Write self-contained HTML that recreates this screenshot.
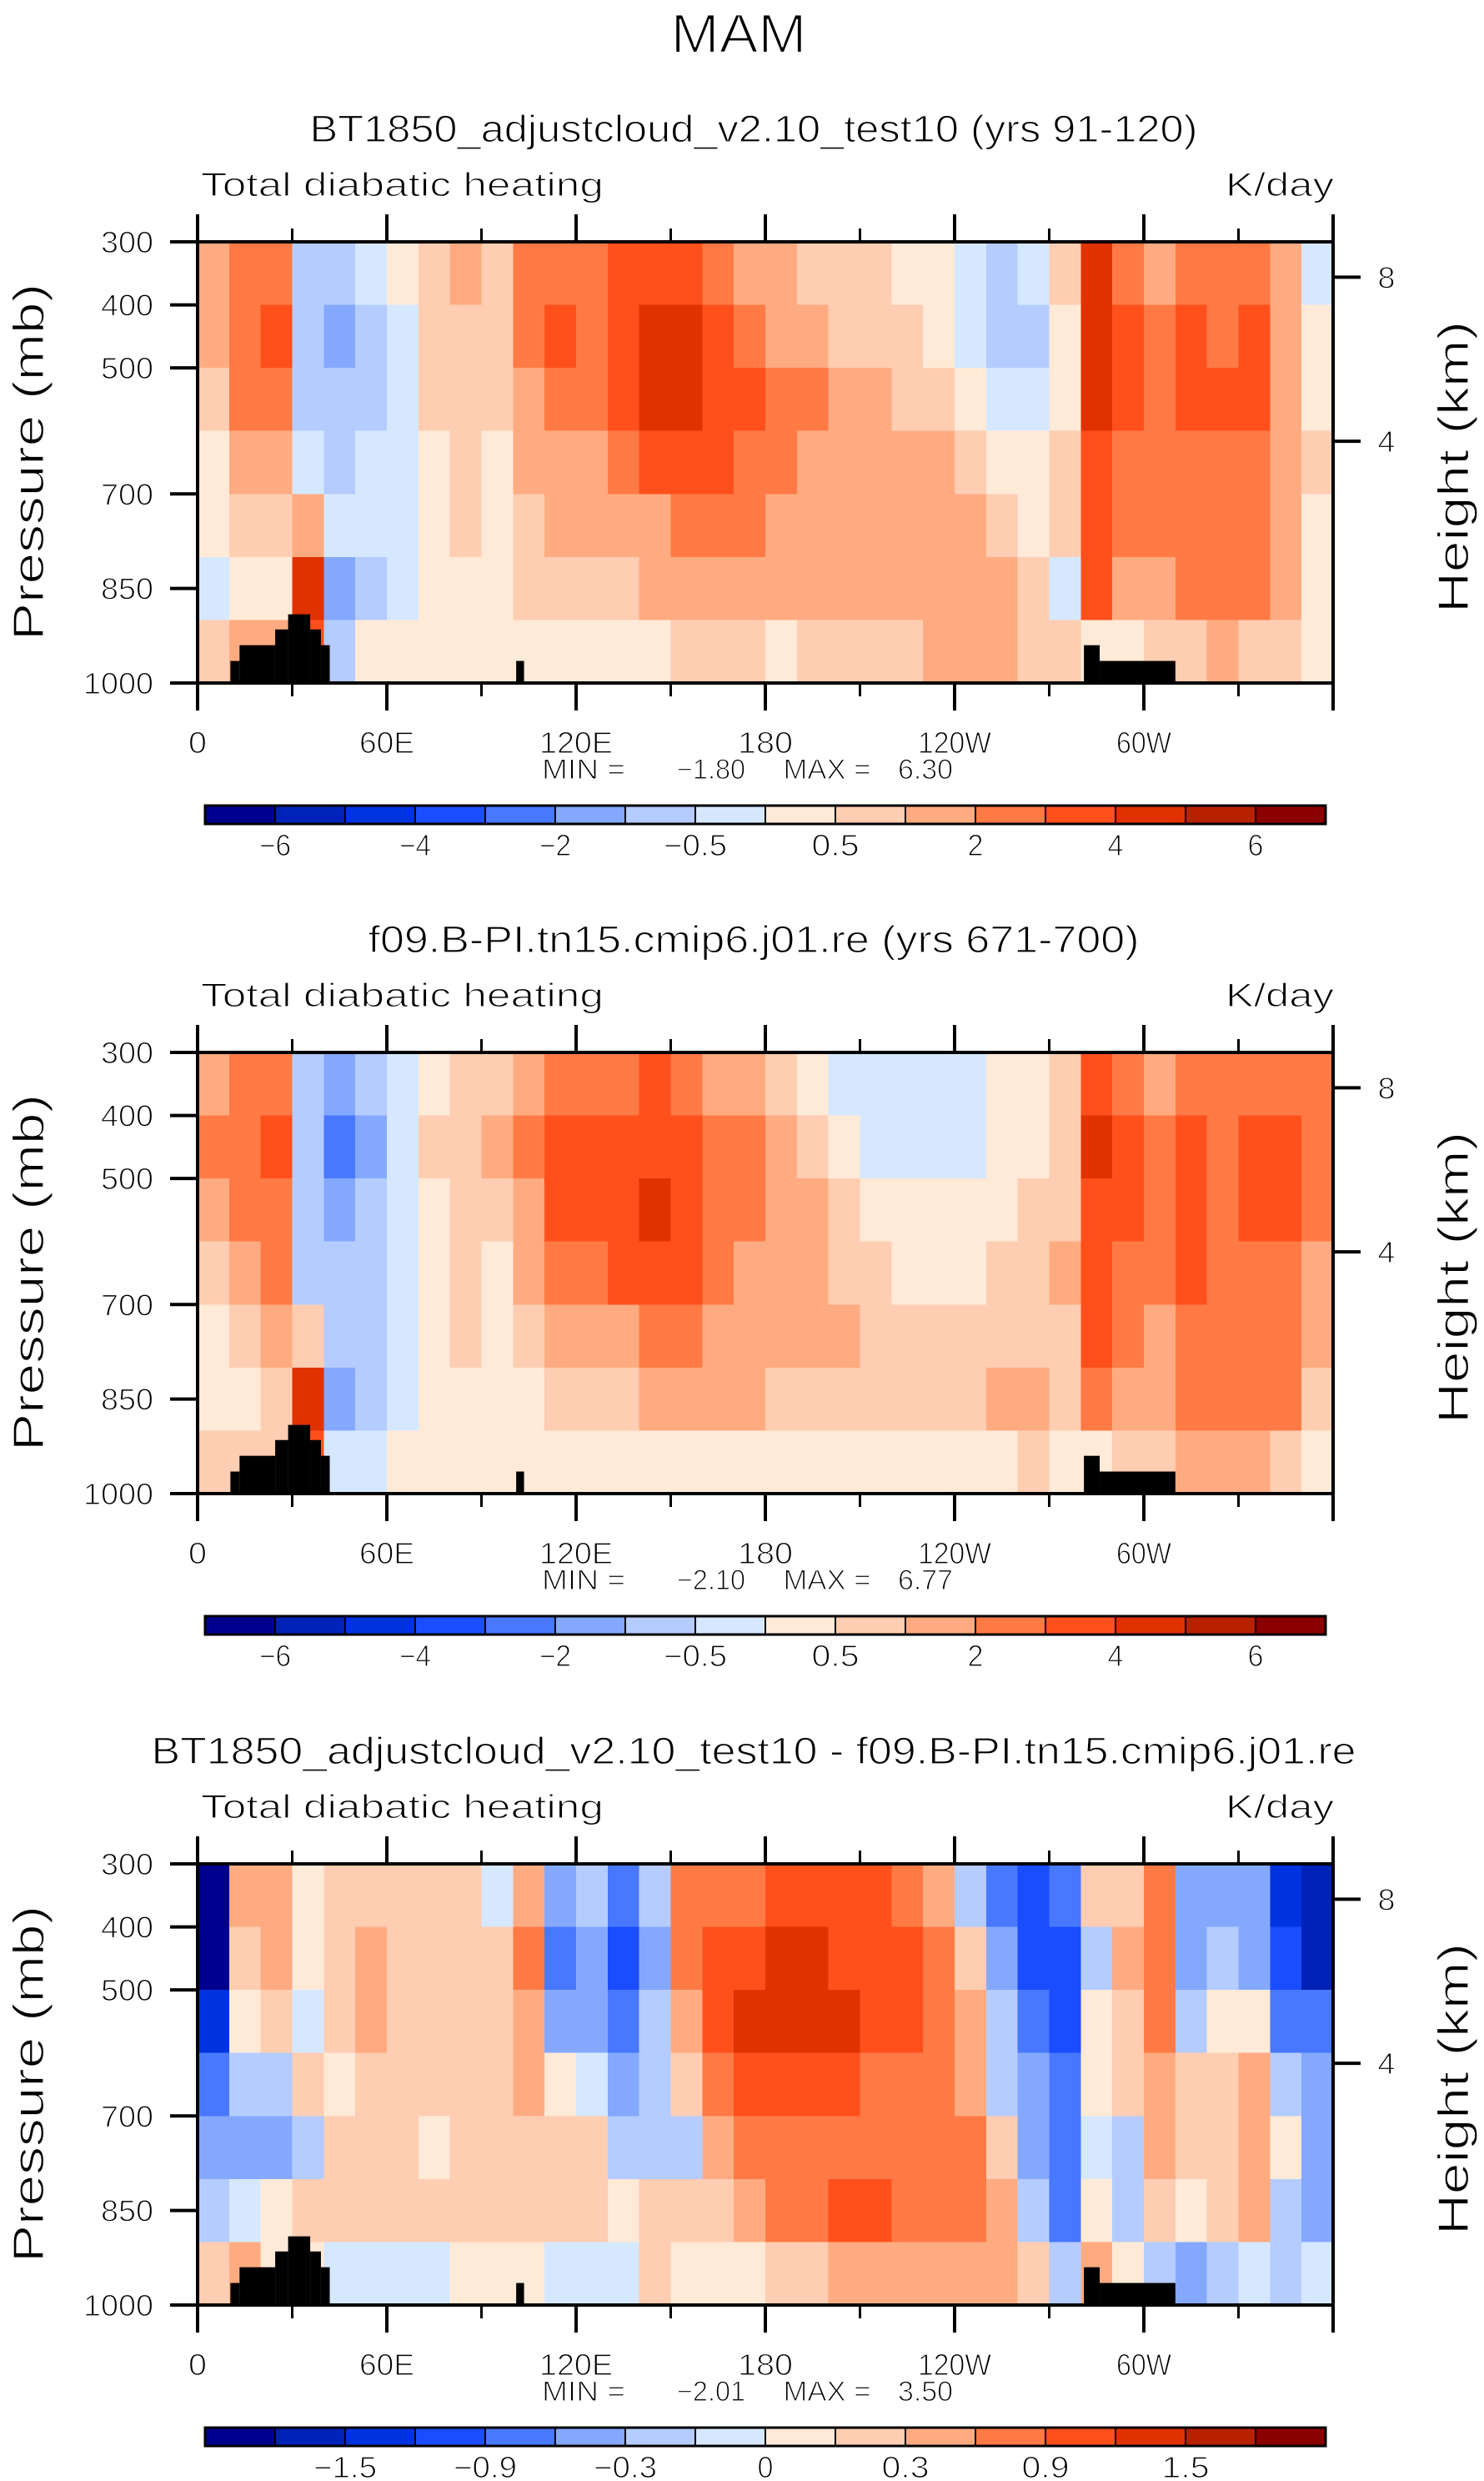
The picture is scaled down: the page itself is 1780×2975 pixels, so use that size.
<!DOCTYPE html>
<html><head><meta charset="utf-8"><style>
html,body{margin:0;padding:0;background:#fff;}
svg{display:block;}
text{font-family:"Liberation Sans",sans-serif;fill:#000;stroke:#fff;stroke-width:1.2px;}
</style></head><body>
<svg id="fig" width="1780" height="2975" viewBox="0 0 1780 2975" xmlns="http://www.w3.org/2000/svg">
<rect x="0" y="0" width="1780" height="2975" fill="#fff"/>
<text x="886" y="63" font-size="66" text-anchor="middle" textLength="163" lengthAdjust="spacingAndGlyphs" style="stroke-width:2px">MAM</text>
</svg>
<script>
// ---- data ----
const lonCenters = [5,15,25,35,45,55,65,75,85,95,105,115,125,135,145,155,165,175,185,195,205,215,225,235,245,255,265,275,285,295,305,315,325,335,345,355];
const pressureEdges = [300,400,500,600,700,800,900,1000];
const lonTicks = [0,60,120,180,240,300];
const lonTickLabels = ["0","60E","120E","180","120W","60W"];
const presTicks = [300,400,500,700,850,1000];
const heightTicksKm = [8,4];
// each column: values from top (300-400 mb) to bottom (900-1000 mb)
const heat1 = [
[1.5,1.5,0.7,0.3,0.3,-0.3,0.7],[2.5,2.5,2.5,1.5,0.7,0.3,1.5],[2.5,3.5,2.5,1.5,0.7,0.3,1.5],
[-0.7,-0.7,-0.7,-0.3,1.5,4.5,3.5],[-0.7,-1.5,-0.7,-0.7,-0.3,-1.5,-0.7],[-0.3,-0.7,-0.7,-0.3,-0.3,-0.7,0.3],
[0.3,-0.3,-0.3,-0.3,-0.3,-0.3,0.3],[0.7,0.7,0.7,0.3,0.3,0.3,0.3],[1.5,0.7,0.7,0.7,0.7,0.3,0.3],
[0.7,0.7,0.7,0.3,0.3,0.3,0.3],[2.5,2.5,1.5,1.5,0.7,0.7,0.3],[2.5,3.5,2.5,1.5,1.5,0.7,0.3],
[2.5,2.5,2.5,1.5,1.5,0.7,0.3],[3.5,3.5,3.5,2.5,1.5,0.7,0.3],[3.5,4.5,4.5,3.5,1.5,1.5,0.3],
[3.5,4.5,4.5,3.5,2.5,1.5,0.7],[2.5,3.5,3.5,3.5,2.5,1.5,0.7],[1.5,2.5,3.5,2.5,2.5,1.5,0.7],
[1.5,1.5,2.5,2.5,1.5,1.5,0.3],[0.7,1.5,2.5,1.5,1.5,1.5,0.7],[0.7,0.7,1.5,1.5,1.5,1.5,0.7],
[0.7,0.7,1.5,1.5,1.5,1.5,0.7],[0.3,0.7,0.7,1.5,1.5,1.5,0.7],[0.3,0.3,0.7,1.5,1.5,1.5,1.5],
[-0.3,-0.3,0.3,0.7,1.5,1.5,1.5],[-0.7,-0.7,-0.3,0.3,0.7,1.5,1.5],[-0.3,-0.7,-0.3,0.3,0.3,0.7,0.7],
[0.7,0.3,0.3,0.7,0.7,-0.3,0.7],[4.5,4.5,4.5,3.5,3.5,3.5,0.3],[2.5,3.5,3.5,2.5,2.5,1.5,0.3],
[1.5,2.5,2.5,2.5,2.5,1.5,0.7],[2.5,3.5,3.5,2.5,2.5,2.5,0.7],[2.5,2.5,3.5,2.5,2.5,2.5,1.5],
[2.5,3.5,3.5,2.5,2.5,2.5,0.7],[1.5,1.5,1.5,1.5,1.5,1.5,0.7],[-0.3,0.3,0.3,0.7,0.3,0.3,0.3]
];
const heat2 = [
[1.5,2.5,1.5,0.7,0.3,0.3,0.7],[2.5,2.5,2.5,1.5,0.7,0.3,0.7],[2.5,3.5,2.5,2.5,1.5,0.7,0.7],
[-0.7,-0.7,-0.7,-0.7,0.7,4.5,3.5],[-1.5,-2.5,-1.5,-0.7,-0.7,-1.5,-0.3],[-0.7,-1.5,-0.7,-0.7,-0.7,-0.7,-0.3],
[-0.3,-0.3,-0.3,-0.3,-0.3,-0.3,0.3],[0.3,0.7,0.3,0.3,0.3,0.3,0.3],[0.7,0.7,0.7,0.7,0.7,0.3,0.3],
[0.7,1.5,0.7,0.3,0.3,0.3,0.3],[1.5,2.5,1.5,1.5,0.7,0.3,0.3],[2.5,3.5,3.5,2.5,1.5,0.7,0.3],
[2.5,3.5,3.5,2.5,1.5,0.7,0.3],[2.5,3.5,3.5,3.5,1.5,0.7,0.3],[3.5,3.5,4.5,3.5,2.5,1.5,0.3],
[2.5,3.5,3.5,3.5,2.5,1.5,0.3],[1.5,2.5,2.5,2.5,1.5,1.5,0.3],[1.5,2.5,2.5,1.5,1.5,1.5,0.3],
[0.7,1.5,1.5,1.5,1.5,0.7,0.3],[0.3,0.7,1.5,1.5,1.5,0.7,0.3],[-0.3,0.3,0.7,0.7,1.5,0.7,0.3],
[-0.3,-0.3,0.3,0.7,0.7,0.7,0.3],[-0.3,-0.3,0.3,0.3,0.7,0.7,0.3],[-0.3,-0.3,0.3,0.3,0.7,0.7,0.3],
[-0.3,-0.3,0.3,0.3,0.7,0.7,0.3],[0.3,0.3,0.3,0.7,0.7,1.5,0.3],[0.3,0.3,0.7,0.7,0.7,1.5,0.7],
[0.7,0.7,0.7,1.5,0.7,0.7,0.3],[3.5,4.5,3.5,3.5,3.5,2.5,0.3],[2.5,3.5,3.5,2.5,2.5,1.5,0.7],
[1.5,2.5,2.5,2.5,1.5,1.5,0.7],[2.5,3.5,3.5,3.5,2.5,2.5,1.5],[2.5,2.5,2.5,2.5,2.5,2.5,1.5],
[2.5,3.5,3.5,2.5,2.5,2.5,1.5],[2.5,3.5,3.5,2.5,2.5,2.5,0.7],[2.5,2.5,2.5,1.5,1.5,0.7,0.3]
];
const heatDiff = [
[-2,-2,-1.35,-0.75,-0.45,-0.2,0.2],[0.45,0.2,0.07,-0.2,-0.45,-0.07,0.45],[0.45,0.45,0.2,-0.2,-0.45,0.07,0.07],
[0.07,0.07,-0.07,0.2,-0.2,0.2,0.07],[0.2,0.2,0.2,0.07,0.2,0.2,-0.07],[0.2,0.45,0.45,0.2,0.2,0.2,-0.07],
[0.2,0.2,0.2,0.2,0.2,0.2,-0.07],[0.2,0.2,0.2,0.2,0.07,0.2,-0.07],[0.2,0.2,0.2,0.2,0.2,0.2,0.07],
[-0.07,0.2,0.2,0.2,0.2,0.2,0.07],[0.45,0.75,0.45,0.45,0.2,0.2,0.07],[-0.45,-0.75,-0.45,0.07,0.2,0.2,-0.07],
[-0.2,-0.45,-0.45,-0.07,0.2,0.2,-0.07],[-0.75,-1.05,-0.75,-0.45,-0.2,0.07,-0.07],[-0.2,-0.45,-0.2,-0.2,-0.2,0.2,0.2],
[0.75,0.75,0.45,0.2,-0.2,0.2,0.07],[0.75,1.05,1.05,0.75,0.45,0.2,0.07],[0.75,1.05,1.35,1.05,0.75,0.45,0.07],
[1.05,1.35,1.35,1.05,0.75,0.75,0.2],[1.05,1.35,1.35,1.05,0.75,0.75,0.2],[1.05,1.05,1.35,1.05,0.75,1.05,0.45],
[1.05,1.05,1.05,0.75,0.75,1.05,0.45],[0.75,1.05,1.05,0.75,0.75,0.75,0.45],[0.45,0.75,0.75,0.75,0.75,0.75,0.45],
[-0.2,0.2,0.45,0.45,0.75,0.75,0.45],[-0.75,-0.45,-0.2,-0.2,0.2,0.45,0.45],[-1.05,-1.05,-0.75,-0.45,-0.45,-0.2,0.2],
[-0.75,-1.05,-1.05,-0.75,-0.75,-0.75,-0.2],[0.2,-0.2,0.07,0.07,-0.07,0.07,0.45],[0.2,0.45,0.2,0.2,-0.2,-0.2,0.07],
[0.75,0.75,0.75,0.45,0.45,0.2,-0.2],[-0.45,-0.45,-0.2,0.2,0.2,0.07,-0.45],[-0.45,-0.2,0.07,0.2,0.2,0.2,-0.2],
[-0.45,-0.45,0.07,0.45,0.45,0.45,-0.07],[-1.35,-1.05,-0.75,-0.2,0.07,-0.2,-0.2],[-1.65,-1.65,-0.75,-0.45,-0.45,-0.45,-0.07]
];
const levelsAbs = [-6,-5,-4,-3,-2,-1,-0.5,0,0.5,1,2,3,4,5,6];
const levelLabelsAbs = ["−6","","−4","","−2","","−0.5","","0.5","","2","","4","","6"];
const levelsDiff = [-1.8,-1.5,-1.2,-0.9,-0.6,-0.3,-0.15,0,0.15,0.3,0.6,0.9,1.2,1.5,1.8];
const levelLabelsDiff = ["","−1.5","","−0.9","","−0.3","","0","","0.3","","0.9","","1.5",""];
// topography: [lonStart, lonEnd, topPressure]
const topoLonStart = [10.4,13.3,24.6,28.7,35.7,39.1,101,281,286];
const topoLonEnd   = [13.3,24.6,28.7,35.7,39.1,41.9,103.5,286,310];
const topoTopP     = [965,940,915,891,915,940,965,940,965];
const subtitles = ["BT1850_adjustcloud_v2.10_test10 (yrs 91-120)","f09.B-PI.tn15.cmip6.j01.re (yrs 671-700)","BT1850_adjustcloud_v2.10_test10 - f09.B-PI.tn15.cmip6.j01.re"];
const minVals = ["−1.80","−2.10","−2.01"];
const maxVals = ["6.30","6.77","3.50"];
// ---- end data ----

const palette = ["#00008f","#0022b8","#0033e0","#1a4dff","#4878ff","#85a8ff","#b4ccff","#d6e8ff","#ffead8","#ffcdb2","#ffab82","#ff7a45","#ff501c","#e03200","#b82100","#8b0000"];
const NS="http://www.w3.org/2000/svg";
const svg=document.getElementById('fig');
const X0=237, X1=1599;
function xScale(lon){return X0+(lon/360)*(X1-X0);}
function mk(tag,attrs,parent){const e=document.createElementNS(NS,tag);for(const k in attrs)e.setAttribute(k,attrs[k]);(parent||svg).appendChild(e);return e;}
function colorFor(v,levels){let i=0;while(i<levels.length&&v>=levels[i])i++;return palette[i];}
function txt(parent,x,y,s,size,anchor,len){const t=mk('text',{x:x,y:y,'font-size':size,'text-anchor':anchor||'middle'},parent);if(len){t.setAttribute('textLength',len);t.setAttribute('lengthAdjust','spacingAndGlyphs');}t.textContent=s;return t;}

function panel(idx,off,data,levels,labels){
  const Y0=290+off, Y1=819+off;
  const yScale=p=>Y0+(p-300)/700*(Y1-Y0);
  const g=mk('g',{});
  
  
  const st=txt(g,904,170+off,subtitles[idx],45,'middle',idx===2?1445:(idx===0?1065:925));
  
  
  const lt=txt(g,241,235+off,"Total diabatic heating",40,'start',483);
  
  
  const rt=txt(g,1600,235+off,"K/day",40,'end',130);
  
  
  const cg=mk('g',{'shape-rendering':'crispEdges'},g);
  
  
  const dl=lonCenters[1]-lonCenters[0];
  for(let c=0;c<lonCenters.length;c++){
    for(let r=0;r<pressureEdges.length-1;r++){
      const x=xScale(lonCenters[c]-dl/2), w=xScale(lonCenters[c]+dl/2)-x;
      const y=yScale(pressureEdges[r]), h=yScale(pressureEdges[r+1])-y;
      const cell=mk('rect',{x:x,y:y,width:w+0.6,height:h+0.6,fill:colorFor(data[c][r],levels)},cg);
      
      
    }
  }
  for(let i=0;i<topoLonStart.length;i++){
    const x=xScale(topoLonStart[i]), y=yScale(topoTopP[i]);
    const tp=mk('rect',{x:x,y:y,width:xScale(topoLonEnd[i])-x,height:Y1-y,fill:'#000'},g);
    
    
  }
  const fr=mk('rect',{x:X0,y:Y0,width:X1-X0,height:Y1-Y0,fill:'none',stroke:'#000','stroke-width':4},g);
  
  
  for(let lon=0;lon<=360;lon+=30){
    const major=lon%60===0, L=major?33:16, x=xScale(lon);
    mk('line',{x1:x,y1:Y0,x2:x,y2:Y0-L,stroke:'#000','stroke-width':major?4:3},g);
    mk('line',{x1:x,y1:Y1,x2:x,y2:Y1+L,stroke:'#000','stroke-width':major?4:3},g);
  }
  lonTicks.forEach((lon,i)=>{
    const s=lonTickLabels[i];
    const t=txt(g,xScale(lon),903+off,s,36,'middle',s.length*22);
    
    
  });
  presTicks.forEach(p=>{
    const y=yScale(p);
    mk('line',{x1:X0,y1:y,x2:X0-33,y2:y,stroke:'#000','stroke-width':4},g);
    const t=txt(g,184,y+13,String(p),36,'end',String(p).length*21);
    
    
  });
  heightTicksKm.forEach(z=>{
    const p=1013.25*Math.pow(1-2.25577e-5*z*1000,5.25588);
    const y=yScale(p);
    mk('line',{x1:X1,y1:y,x2:X1+33,y2:y,stroke:'#000','stroke-width':4},g);
    const t=txt(g,1663,y+13,String(z),36,'middle',21);
    
    
  });
  const ya=txt(g,0,0,"Pressure (mb)",52,'middle',428);
  ya.setAttribute('transform','translate(52,'+(554+off)+') rotate(-90)');
  
  
  const yb=txt(g,0,0,"Height (km)",52,'middle',350);
  yb.setAttribute('transform','translate(1761,'+(560+off)+') rotate(-90)');
  
  
  const mm=[["MIN =",700,100],[minVals[idx],853,82],["MAX =",992,105],[maxVals[idx],1110,66]];
  mm.forEach(a=>{const t=txt(g,a[1],934+off,a[0],34,'middle',a[2]);
    
    });
  const cbg=mk('g',{},g);
  
  
  const cx0=246,cx1=1590,cy=966+off,ch=22,bw=(cx1-cx0)/16;
  for(let i=0;i<16;i++){
    const b=mk('rect',{x:cx0+i*bw,y:cy,width:bw,height:ch,fill:palette[i],stroke:'#000','stroke-width':2},cbg);
    
    
  }
  mk('rect',{x:cx0,y:cy,width:cx1-cx0,height:ch,fill:'none',stroke:'#000','stroke-width':3},cbg);
  labels.forEach((s,i)=>{
    if(!s)return;
    const t=txt(cbg,cx0+(i+1)*bw,1026+off,s,36,'middle',s.length*19);
    
    
  });
}
panel(0,0,heat1,levelsAbs,levelLabelsAbs);
panel(1,972,heat2,levelsAbs,levelLabelsAbs);
panel(2,1945,heatDiff,levelsDiff,levelLabelsDiff);
</script>
</body></html>
